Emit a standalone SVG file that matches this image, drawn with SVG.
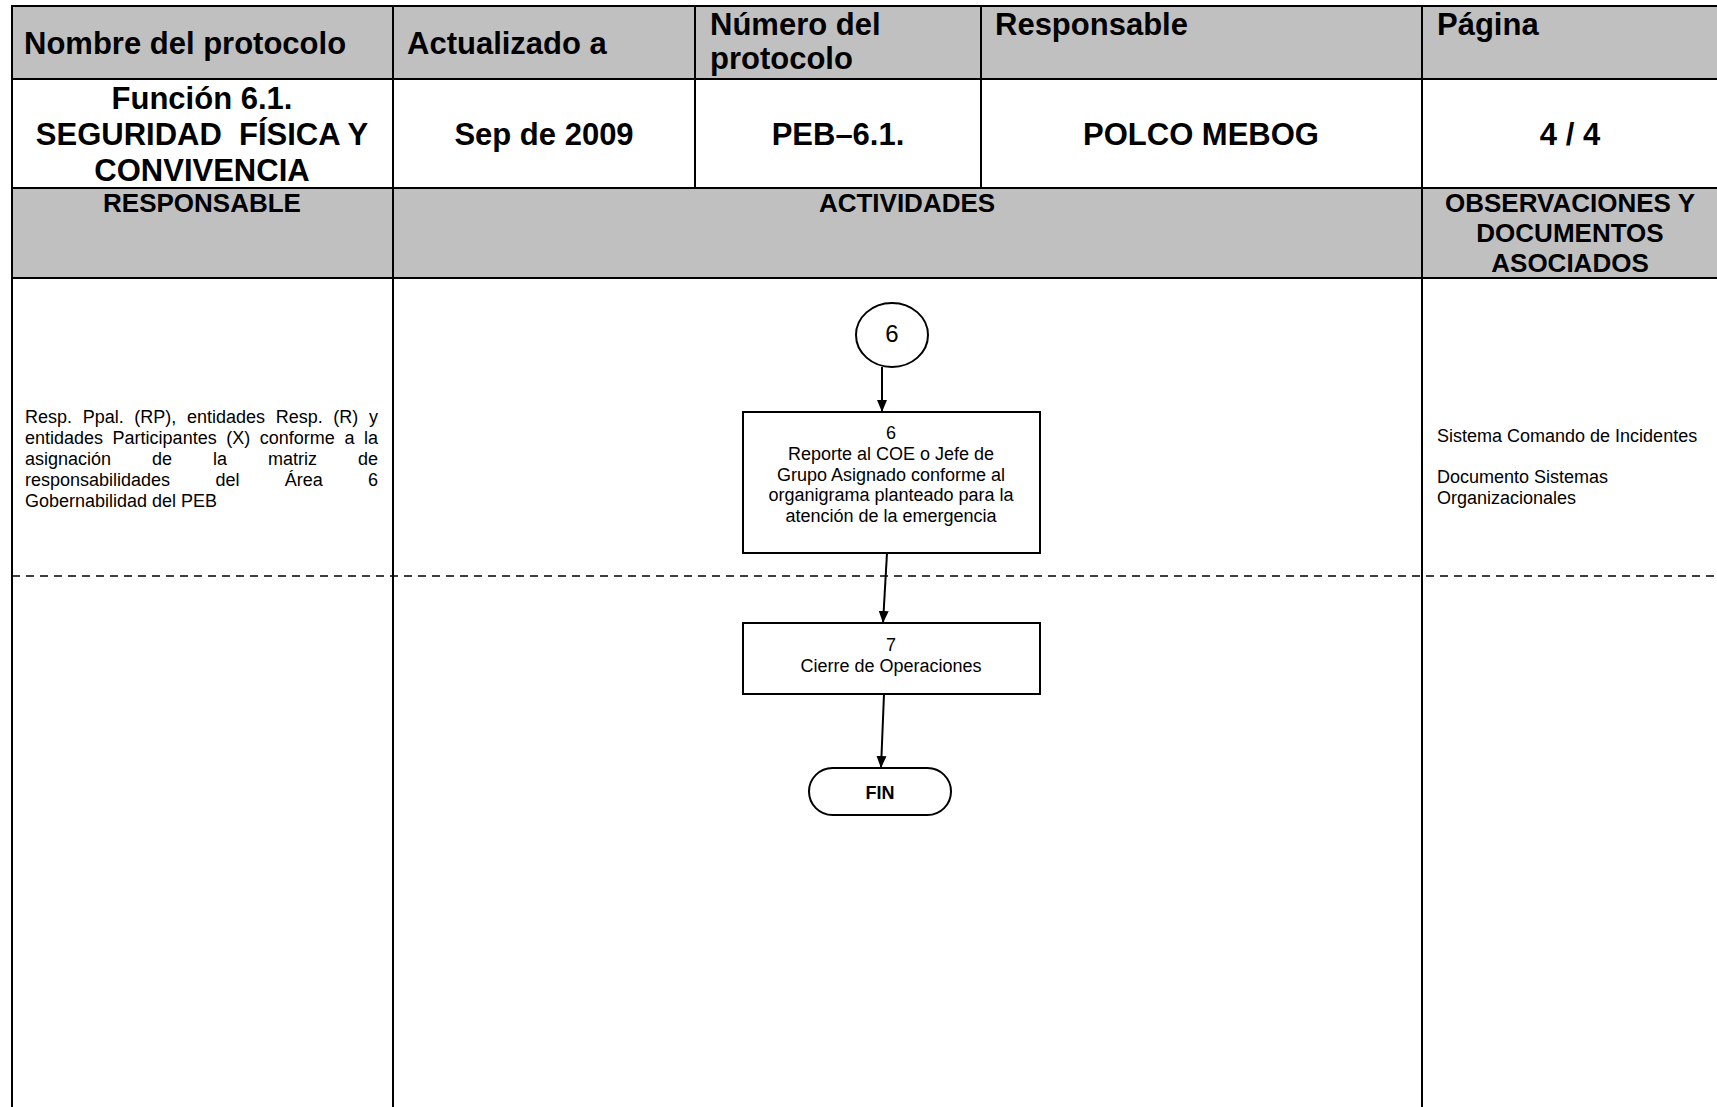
<svg xmlns="http://www.w3.org/2000/svg" width="1717" height="1107" viewBox="0 0 1717 1107">
<style>
.hb{font-family:"Liberation Sans",Arial,sans-serif;font-weight:bold;font-size:31px;fill:#000}
.hs{font-family:"Liberation Sans",Arial,sans-serif;font-weight:bold;font-size:26px;fill:#000}
.t{font-family:"Liberation Sans",Arial,sans-serif;font-size:18px;fill:#000}
.c{text-anchor:middle}
.grid{stroke:#000;stroke-width:2;fill:none}
.node{fill:#fff;stroke:#000;stroke-width:2}
.conn{stroke:#000;stroke-width:2;fill:none}
</style>
<defs>
<marker id="arr" markerUnits="userSpaceOnUse" markerWidth="12" markerHeight="14" refX="12" refY="5" orient="auto" viewBox="0 0 12 10">
<path d="M0,0 L12,5 L0,10 Z" fill="#000"/>
</marker>
</defs>
<rect width="1717" height="1107" fill="#fff"/>
<g id="table">
<rect x="12" y="6" width="1705" height="73" fill="#C0C0C0"/>
<rect x="12" y="188" width="1705" height="90" fill="#C0C0C0"/>
<g class="grid">
<line x1="11" y1="6" x2="1717" y2="6"/>
<line x1="12" y1="79" x2="1717" y2="79"/>
<line x1="12" y1="188" x2="1717" y2="188"/>
<line x1="12" y1="278" x2="1717" y2="278"/>
<line x1="12" y1="6" x2="12" y2="1107"/>
<line x1="393" y1="6" x2="393" y2="1107"/>
<line x1="695" y1="6" x2="695" y2="188"/>
<line x1="981" y1="6" x2="981" y2="188"/>
<line x1="1422" y1="6" x2="1422" y2="1107"/>
</g>
<line x1="12" y1="576" x2="1717" y2="576" stroke="#000" stroke-width="1.5" stroke-dasharray="8 6"/>
<text class="hb" x="24" y="54">Nombre del protocolo</text>
<text class="hb" x="407" y="54">Actualizado a</text>
<text class="hb" x="710" y="35">Número del</text>
<text class="hb" x="710" y="69">protocolo</text>
<text class="hb" x="995" y="35">Responsable</text>
<text class="hb" x="1437" y="35">Página</text>
<text class="hb c" x="202" y="109">Función 6.1.</text>
<text class="hb c" x="202" y="145" xml:space="preserve">SEGURIDAD  FÍSICA Y</text>
<text class="hb c" x="202" y="181">CONVIVENCIA</text>
<text class="hb c" x="544" y="145">Sep de 2009</text>
<text class="hb c" x="838" y="145">PEB–6.1.</text>
<text class="hb c" x="1201" y="145">POLCO MEBOG</text>
<text class="hb c" x="1570" y="145">4 / 4</text>
<text class="hs c" x="202" y="212">RESPONSABLE</text>
<text class="hs c" x="907" y="212">ACTIVIDADES</text>
<text class="hs c" x="1570" y="212">OBSERVACIONES Y</text>
<text class="hs c" x="1570" y="242">DOCUMENTOS</text>
<text class="hs c" x="1570" y="272">ASOCIADOS</text>
</g>
<g id="responsable-text" class="t">
<text x="25" y="423">Resp.</text><text x="82.7" y="423">Ppal.</text><text x="134.3" y="423">(RP),</text><text x="187" y="423">entidades</text><text x="275.7" y="423">Resp.</text><text x="333.3" y="423">(R)</text><text x="378" y="423" text-anchor="end">y</text>
<text x="25" y="444">entidades</text><text x="112.6" y="444">Participantes</text><text x="226.2" y="444">(X)</text><text x="259.8" y="444">conforme</text><text x="344.4" y="444">a</text><text x="378" y="444" text-anchor="end">la</text>
<text x="25" y="465">asignación</text><text x="152" y="465">de</text><text x="213" y="465">la</text><text x="268" y="465">matriz</text><text x="378" y="465" text-anchor="end">de</text>
<text x="25" y="486">responsabilidades</text><text x="215.4" y="486">del</text><text x="284.7" y="486">Área</text><text x="378" y="486" text-anchor="end">6</text>
<text x="25" y="507">Gobernabilidad del PEB</text>
</g>
<g id="observaciones-text" class="t">
<text x="1437" y="442">Sistema Comando de Incidentes</text>
<text x="1437" y="483">Documento Sistemas</text>
<text x="1437" y="504">Organizacionales</text>
</g>
<g id="connectors">
<line class="conn" x1="882" y1="367" x2="882" y2="412" marker-end="url(#arr)"/>
<line class="conn" x1="887" y1="553" x2="883" y2="623" marker-end="url(#arr)"/>
<line class="conn" x1="884" y1="694" x2="881" y2="768" marker-end="url(#arr)"/>
</g>
<g id="node-connector-6">
<ellipse class="node" cx="892" cy="335" rx="36" ry="32"/>
<text class="t c" x="892" y="342" style="font-size:24px">6</text>
</g>
<g id="node-6">
<rect class="node" x="743" y="412" width="297" height="141"/>
<text class="t c" x="891" y="439">6</text>
<text class="t c" x="891" y="460">Reporte al COE o Jefe de</text>
<text class="t c" x="891" y="481">Grupo Asignado conforme al</text>
<text class="t c" x="891" y="501">organigrama planteado para la</text>
<text class="t c" x="891" y="522">atención de la emergencia</text>
</g>
<g id="node-7">
<rect class="node" x="743" y="623" width="297" height="71"/>
<text class="t c" x="891" y="651">7</text>
<text class="t c" x="891" y="672">Cierre de Operaciones</text>
</g>
<g id="node-fin">
<rect class="node" x="809" y="768" width="142" height="47" rx="23.5" ry="23.5"/>
<text class="t c" x="880" y="799" style="font-weight:bold">FIN</text>
</g>
</svg>
